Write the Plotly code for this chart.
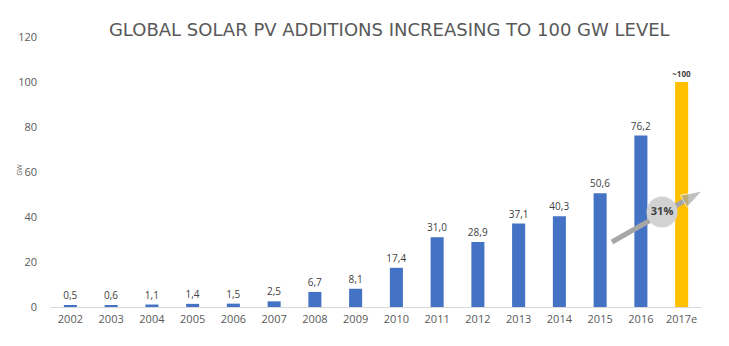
import plotly.graph_objects as go

years = ["2002", "2003", "2004", "2005", "2006", "2007", "2008", "2009",
         "2010", "2011", "2012", "2013", "2014", "2015", "2016", "2017e"]
values = [0.5, 0.6, 1.1, 1.4, 1.5, 2.5, 6.7, 8.1, 17.4, 31.0, 28.9, 37.1,
          40.3, 50.6, 76.2, 100]
labels = ["0,5", "0,6", "1,1", "1,4", "1,5", "2,5", "6,7", "8,1", "17,4",
          "31,0", "28,9", "37,1", "40,3", "50,6", "76,2", "~100"]
growth_label = "31%"

BLUE = "#4472C4"
YELLOW = "#FFC000"
GREY_TXT = "#595959"

xs = list(range(len(years)))
colors = [BLUE] * (len(years) - 1) + [YELLOW]
label_sizes = [10] * (len(years) - 1) + [8]
label_text = [l if i < len(labels) - 1 else "<b>" + l + "</b>" for i, l in enumerate(labels)]

fig = go.Figure()
fig.add_trace(go.Bar(
    x=xs, y=values, marker=dict(color=colors, line=dict(width=0)),
    width=0.32, text=label_text, textposition="outside", constraintext="none",
    textfont=dict(size=label_sizes, color="#404040", family="Open Sans"),
    cliponaxis=False, hoverinfo="skip",
))

# growth arrow (decorative)
fig.add_trace(go.Scatter(
    x=[13.29, 15.5], y=[28.9, 51.6], mode="lines+markers",
    line=dict(color="#A6A6A6", width=5),
    marker=dict(symbol=["circle", "arrow"], size=[5, 22], color="#A6A6A6",
                angleref="previous"),
    hoverinfo="skip", cliponaxis=False,
))
fig.add_trace(go.Scatter(
    x=[14.52], y=[42.2], mode="markers+text",
    marker=dict(size=31, color="#D2D2D2", line=dict(width=0)),
    text=["<b>" + growth_label + "</b>"], textposition="middle center",
    textfont=dict(size=11, color="#404040", family="Open Sans"),
    hoverinfo="skip", cliponaxis=False,
))

fig.update_layout(
    width=729, height=346,
    margin=dict(l=50, r=27, t=37, b=39),
    paper_bgcolor="white", plot_bgcolor="white",
    showlegend=False,
    title=dict(text="GLOBAL SOLAR PV ADDITIONS INCREASING TO 100 GW LEVEL",
               x=0.534, xanchor="center", y=0.913, yanchor="middle",
               font=dict(family="DejaVu Sans", size=18, color=GREY_TXT)),
    xaxis=dict(
        range=[-0.5, len(years) - 0.5], tickvals=xs, ticktext=years,
        showgrid=False, zeroline=False, showline=False, ticks="",
        tickfont=dict(size=11, color=GREY_TXT, family="Open Sans"),
        ticklabelstandoff=4, fixedrange=True,
    ),
    yaxis=dict(
        range=[0, 120], tickvals=[0, 20, 40, 60, 80, 100, 120],
        showgrid=False, zeroline=True, zerolinecolor="#D9D9D9", zerolinewidth=1,
        showline=False, ticks="",
        tickfont=dict(size=11, color=GREY_TXT, family="Open Sans"),
        ticklabelstandoff=12, fixedrange=True,
    ),
    annotations=[dict(
        text="GW", textangle=-90, xref="paper", yref="paper",
        x=-0.058, y=0.507, showarrow=False,
        font=dict(size=7, color=GREY_TXT, family="Open Sans"),
    )],
)

fig.write_html("out.html")
